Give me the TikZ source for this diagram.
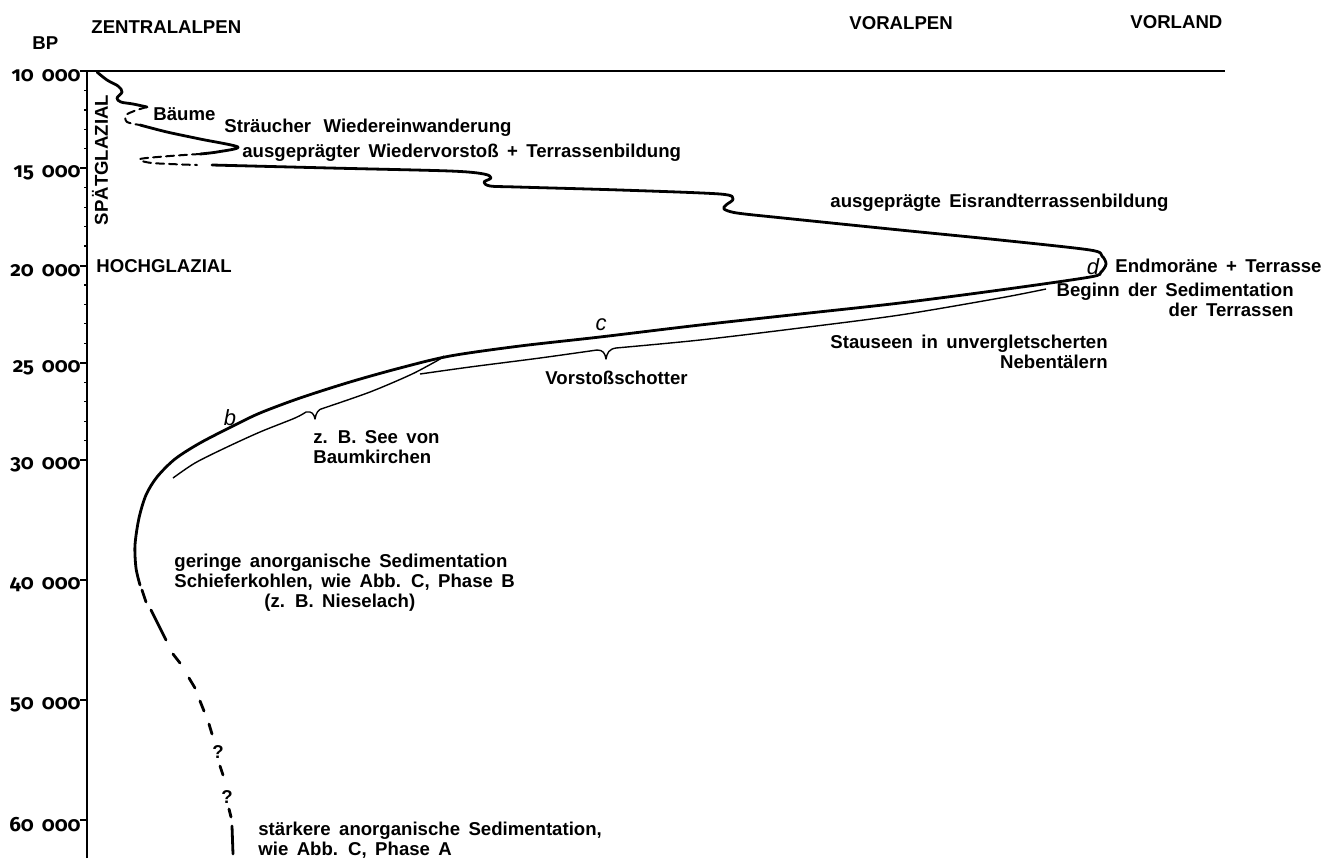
\documentclass[tikz,border=0pt]{standalone}
\usepackage{fontspec}
\setmainfont{Liberation Sans}
\newfontfamily\numfont[Numbers=OldStyle]{Fira Sans}
\newcommand\lblfont{\fontsize{9.3}{10}\selectfont\bfseries\spaceskip=4.2pt plus 1pt minus 1pt\relax}
\newcommand\numlblfont{\fontsize{10.3}{11}\selectfont\numfont\bfseries}

\begin{document}
\begin{tikzpicture}[
    x=0.5pt, y=-0.5pt,
    lbl/.style={anchor=west, inner sep=0pt, font=\lblfont},
    numlbl/.style={anchor=east, inner sep=0pt, font=\numlblfont},
    letter/.style={inner sep=0pt, font=\fontsize{11}{12}\selectfont\itshape},
    axisline/.style={line width=0.9pt},
    ice/.style={line width=1.4pt, line join=round, line cap=round},
    icedash/.style={ice, line width=1pt, dash pattern=on 4pt off 2.5pt},
    sed/.style={line width=0.7pt, line join=round}
]
\useasboundingbox (0,0) rectangle (1333,858);

% Headings
\node[lbl] (bp) at (32,43) {BP};
\node[lbl] (zentral) at (91,27) {ZENTRALALPEN};
\node[lbl] (voralpen) at (849,23) {VORALPEN};
\node[lbl] (vorland) at (1130,22) {VORLAND};

% Axes
\coordinate (origin) at (87,71);
\coordinate (axisend) at (87,858);
\coordinate (topend) at (1225,71);
\draw[axisline] (axisend) -- (origin) -- (topend);

% Major ticks
\foreach \t/\yy in {10/71,15/168,20/266,25/363,30/460,40/580,50/700,60/820}{
  \draw[axisline] (80,\yy) -- (87,\yy);
  \node[numlbl] (tick\t) at (81,\yy+5) {\t\hspace{4pt}000};
}
% Minor ticks
\foreach \t in {11,...,29}{
  \draw[line width=0.6pt] (84,{71+19.45*(\t-10)}) -- (87,{71+19.45*(\t-10)});
}

% Phase labels
\node[lbl, anchor=center, rotate=90] (spaet) at (100,160) {SPÄTGLAZIAL};
\node[lbl] (hoch) at (96,266) {HOCHGLAZIAL};

% Glacier curve, Spaetglazial
\draw[ice] plot[smooth, tension=0.6] coordinates {(97,72) (107,80) (118,86) (122,92) (117,98) (121,102) (133,104) (147,107)};
\draw[icedash] plot[smooth] coordinates {(147,107) (137,110) (126,115) (127,122) (140,125)};
\draw[ice] plot[smooth, tension=0.5] coordinates {(140,125) (167,132) (200,139) (238,147) (217,152) (200,154)};
\draw[icedash] plot[smooth, tension=0.5] coordinates {(200,154) (170,156) (140,159) (152,163) (197,165)};

% Glacier curve, main
\draw[ice] plot[smooth, tension=0.5] coordinates {(212,165) (330,168) (450,171) (484,174) (491,178) (484,182) (490,186) (517,187) (620,190) (720,194) (733,199) (726,205) (724,209) (737,213) (783,218) (900,230) (1000,240) (1090,250) (1102,256) (1106,264) (1101,272) (1090,277) (1000,290) (900,303) (800,314) (700,325) (600,337) (520,346) (450,356) (400,368) (350,382) (300,398) (260,413) (233,426) (200,443) (175,459) (157,477) (146,495) (139,518) (135,545) (136,568) (140,585)};

% Glacier curve, uncertain part
\foreach \xa/\ya/\xb/\yb in {142/590/146/602, 151/610/166/640, 173/654/180/663, 189/678/195/688,
    200/701/204/711, 209/724/212/734, 220/766/223/775, 229/809/231/817, 232/826/233/854}{
  \draw[ice] (\xa,\ya) -- (\xb,\yb);
}
\node[inner sep=0pt, font=\lblfont] (q1) at (218,752) {?};
\node[inner sep=0pt, font=\lblfont] (q2) at (227,797) {?};

% Sediment lines
\draw[sed] plot[smooth] coordinates {(173,478) (195,463) (225,448) (260,432) (295,418) (306,412)}
  .. controls (312,411) and (314,414) .. (315,419)
  .. controls (316,413) and (318,409) .. (324,408);
\draw[sed] plot[smooth] coordinates {(324,408) (370,392) (410,375) (433,363) (440,359) (444,356)};
\draw[sed] plot[smooth] coordinates {(420,374) (470,367) (540,358) (597,350)}
  .. controls (603,350) and (605,353) .. (606,359)
  .. controls (607,353) and (609,349) .. (616,348);
\draw[sed] plot[smooth] coordinates {(616,348) (700,340) (800,328) (900,315) (1000,298) (1046,289)};

% Curve letters
\node[letter] (lb) at (230,418) {b};
\node[letter] (lc) at (601,325) {c};
\node[letter] (ld) at (1093,267) {d};

% Annotations
\node[lbl] (baeume) at (153,114) {Bäume};
\node[lbl] (straeucher) at (224,128) {Sträucher\hspace{2pt} Wiedereinwanderung};
\node[lbl] (wiedervorstoss) at (242,153) {ausgeprägter Wiedervorstoß + Terrassenbildung};
\node[lbl] (eisrand) at (830,203) {ausgeprägte Eisrandterrassenbildung};
\node[lbl] (endmoraene) at (1115,266) {Endmoräne + Terrasse};
\node[lbl, anchor=east, align=right] (beginn) at (1294,300) {Beginn der Sedimentation\\der Terrassen};
\node[lbl, align=right] (stauseen) at (830,352) {Stauseen in unvergletscherten\\Nebentälern};
\node[lbl] (vorstoss) at (545,378) {Vorstoßschotter};
\node[lbl, align=left] (see) at (313,447) {z. B. See von\\Baumkirchen};
\node[lbl, align=left] (gering) at (174,583) {geringe anorganische Sedimentation\\Schieferkohlen, wie Abb. C, Phase B\\\hspace*{45pt}(z. B. Nieselach)};
\node[lbl, align=left] (staerker) at (258,840) {stärkere anorganische Sedimentation,\\wie Abb. C, Phase A};

\end{tikzpicture}
\end{document}
